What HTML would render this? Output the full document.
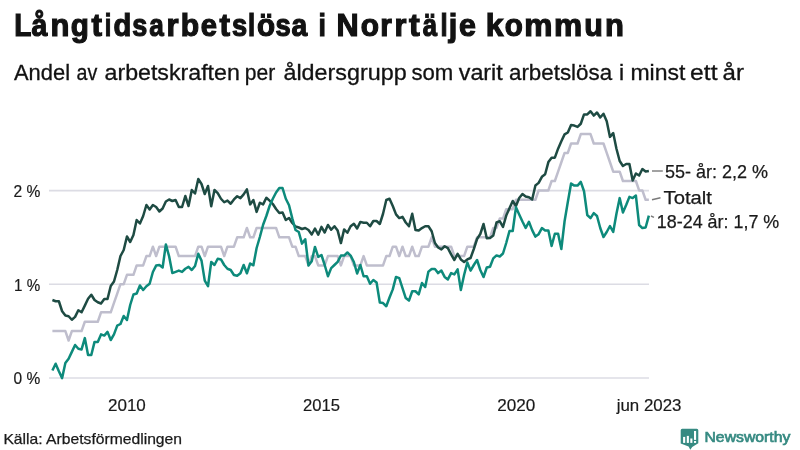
<!DOCTYPE html>
<html><head><meta charset="utf-8">
<style>
html,body{margin:0;padding:0;background:#fff;}
body{width:800px;height:450px;overflow:hidden;}
svg{display:block;will-change:transform;}
text{font-family:"Liberation Sans", sans-serif;}
</style></head><body>
<svg width="800" height="450" viewBox="0 0 800 450">
<rect width="800" height="450" fill="#fff"/>
<text x="14.14" y="35.8" font-size="31.5" font-weight="bold" fill="#121212" stroke="#121212" stroke-width="1.2" textLength="17.15" lengthAdjust="spacingAndGlyphs">L</text>
<text x="31.38" y="35.8" font-size="31.5" font-weight="bold" fill="#121212" stroke="#121212" stroke-width="1.2" textLength="15.91" lengthAdjust="spacingAndGlyphs">å</text>
<text x="50.41" y="35.8" font-size="31.5" font-weight="bold" fill="#121212" stroke="#121212" stroke-width="1.2" textLength="18.93" lengthAdjust="spacingAndGlyphs">n</text>
<text x="70.82" y="35.8" font-size="31.5" font-weight="bold" fill="#121212" stroke="#121212" stroke-width="1.2" textLength="18.13" lengthAdjust="spacingAndGlyphs">g</text>
<text x="91.4" y="35.8" font-size="31.5" font-weight="bold" fill="#121212" stroke="#121212" stroke-width="1.2" textLength="10.5" lengthAdjust="spacingAndGlyphs">t</text>
<text x="104.63" y="35.8" font-size="31.5" font-weight="bold" fill="#121212" stroke="#121212" stroke-width="1.2" textLength="6.56" lengthAdjust="spacingAndGlyphs">i</text>
<text x="113.42" y="35.8" font-size="31.5" font-weight="bold" fill="#121212" stroke="#121212" stroke-width="1.2" textLength="17.81" lengthAdjust="spacingAndGlyphs">d</text>
<text x="132.32" y="35.8" font-size="31.5" font-weight="bold" fill="#121212" stroke="#121212" stroke-width="1.2" textLength="15.01" lengthAdjust="spacingAndGlyphs">s</text>
<text x="149.37" y="35.8" font-size="31.5" font-weight="bold" fill="#121212" stroke="#121212" stroke-width="1.2" textLength="14.54" lengthAdjust="spacingAndGlyphs">a</text>
<text x="166.56" y="35.8" font-size="31.5" font-weight="bold" fill="#121212" stroke="#121212" stroke-width="1.2" textLength="12.08" lengthAdjust="spacingAndGlyphs">r</text>
<text x="180.75" y="35.8" font-size="31.5" font-weight="bold" fill="#121212" stroke="#121212" stroke-width="1.2" textLength="18.39" lengthAdjust="spacingAndGlyphs">b</text>
<text x="200.77" y="35.8" font-size="31.5" font-weight="bold" fill="#121212" stroke="#121212" stroke-width="1.2" textLength="16.26" lengthAdjust="spacingAndGlyphs">e</text>
<text x="219.5" y="35.8" font-size="31.5" font-weight="bold" fill="#121212" stroke="#121212" stroke-width="1.2" textLength="10.5" lengthAdjust="spacingAndGlyphs">t</text>
<text x="232.06" y="35.8" font-size="31.5" font-weight="bold" fill="#121212" stroke="#121212" stroke-width="1.2" textLength="15.15" lengthAdjust="spacingAndGlyphs">s</text>
<text x="247.89" y="35.8" font-size="31.5" font-weight="bold" fill="#121212" stroke="#121212" stroke-width="1.2" textLength="7.12" lengthAdjust="spacingAndGlyphs">l</text>
<text x="256.98" y="35.8" font-size="31.5" font-weight="bold" fill="#121212" stroke="#121212" stroke-width="1.2" textLength="18.08" lengthAdjust="spacingAndGlyphs">ö</text>
<text x="275.57" y="35.8" font-size="31.5" font-weight="bold" fill="#121212" stroke="#121212" stroke-width="1.2" textLength="15.22" lengthAdjust="spacingAndGlyphs">s</text>
<text x="291.52" y="35.8" font-size="31.5" font-weight="bold" fill="#121212" stroke="#121212" stroke-width="1.2" textLength="15.74" lengthAdjust="spacingAndGlyphs">a</text>
<text x="318.58" y="35.8" font-size="31.5" font-weight="bold" fill="#121212" stroke="#121212" stroke-width="1.2" textLength="7.44" lengthAdjust="spacingAndGlyphs">i</text>
<text x="336.51" y="35.8" font-size="31.5" font-weight="bold" fill="#121212" stroke="#121212" stroke-width="1.2" textLength="22.14" lengthAdjust="spacingAndGlyphs">N</text>
<text x="360.84" y="35.8" font-size="31.5" font-weight="bold" fill="#121212" stroke="#121212" stroke-width="1.2" textLength="18.26" lengthAdjust="spacingAndGlyphs">o</text>
<text x="380.35" y="35.8" font-size="31.5" font-weight="bold" fill="#121212" stroke="#121212" stroke-width="1.2" textLength="11.57" lengthAdjust="spacingAndGlyphs">r</text>
<text x="394.53" y="35.8" font-size="31.5" font-weight="bold" fill="#121212" stroke="#121212" stroke-width="1.2" textLength="11.96" lengthAdjust="spacingAndGlyphs">r</text>
<text x="409.03" y="35.8" font-size="31.5" font-weight="bold" fill="#121212" stroke="#121212" stroke-width="1.2" textLength="10.76" lengthAdjust="spacingAndGlyphs">t</text>
<text x="422.72" y="35.8" font-size="31.5" font-weight="bold" fill="#121212" stroke="#121212" stroke-width="1.2" textLength="14.36" lengthAdjust="spacingAndGlyphs">ä</text>
<text x="440.49" y="35.8" font-size="31.5" font-weight="bold" fill="#121212" stroke="#121212" stroke-width="1.2" textLength="7.12" lengthAdjust="spacingAndGlyphs">l</text>
<text x="448.68" y="35.8" font-size="31.5" font-weight="bold" fill="#121212" stroke="#121212" stroke-width="1.2" textLength="8.54" lengthAdjust="spacingAndGlyphs">j</text>
<text x="459.09" y="35.8" font-size="31.5" font-weight="bold" fill="#121212" stroke="#121212" stroke-width="1.2" textLength="16.94" lengthAdjust="spacingAndGlyphs">e</text>
<text x="485.76" y="35.8" font-size="31.5" font-weight="bold" fill="#121212" stroke="#121212" stroke-width="1.2" textLength="17.71" lengthAdjust="spacingAndGlyphs">k</text>
<text x="504.68" y="35.8" font-size="31.5" font-weight="bold" fill="#121212" stroke="#121212" stroke-width="1.2" textLength="18.08" lengthAdjust="spacingAndGlyphs">o</text>
<text x="524.16" y="35.8" font-size="31.5" font-weight="bold" fill="#121212" stroke="#121212" stroke-width="1.2" textLength="28.19" lengthAdjust="spacingAndGlyphs">m</text>
<text x="553.96" y="35.8" font-size="31.5" font-weight="bold" fill="#121212" stroke="#121212" stroke-width="1.2" textLength="28.19" lengthAdjust="spacingAndGlyphs">m</text>
<text x="584.32" y="35.8" font-size="31.5" font-weight="bold" fill="#121212" stroke="#121212" stroke-width="1.2" textLength="18.6" lengthAdjust="spacingAndGlyphs">u</text>
<text x="604.91" y="35.8" font-size="31.5" font-weight="bold" fill="#121212" stroke="#121212" stroke-width="1.2" textLength="18.93" lengthAdjust="spacingAndGlyphs">n</text>
<text x="14.0" y="79.9" font-size="21.6" fill="#121212" stroke="#121212" stroke-width="0.3" textLength="56.0" lengthAdjust="spacingAndGlyphs">Andel</text>
<text x="76.59" y="79.9" font-size="21.6" fill="#121212" stroke="#121212" stroke-width="0.3" textLength="20.74" lengthAdjust="spacingAndGlyphs">av</text>
<text x="104.53" y="79.9" font-size="21.6" fill="#121212" stroke="#121212" stroke-width="0.3" textLength="135.33" lengthAdjust="spacingAndGlyphs">arbetskraften</text>
<text x="244.78" y="79.9" font-size="21.6" fill="#121212" stroke="#121212" stroke-width="0.3" textLength="30.44" lengthAdjust="spacingAndGlyphs">per</text>
<text x="283.42" y="79.9" font-size="21.6" fill="#121212" stroke="#121212" stroke-width="0.3" textLength="123.21" lengthAdjust="spacingAndGlyphs">åldersgrupp</text>
<text x="411.47" y="79.9" font-size="21.6" fill="#121212" stroke="#121212" stroke-width="0.3" textLength="41.84" lengthAdjust="spacingAndGlyphs">som</text>
<text x="458.75" y="79.9" font-size="21.6" fill="#121212" stroke="#121212" stroke-width="0.3" textLength="44.03" lengthAdjust="spacingAndGlyphs">varit</text>
<text x="508.96" y="79.9" font-size="21.6" fill="#121212" stroke="#121212" stroke-width="0.3" textLength="103.16" lengthAdjust="spacingAndGlyphs">arbetslösa</text>
<text x="618.93" y="79.9" font-size="21.6" fill="#121212" stroke="#121212" stroke-width="0.3" textLength="66.48" lengthAdjust="spacingAndGlyphs">i minst</text>
<text x="690.11" y="79.9" font-size="21.6" fill="#121212" stroke="#121212" stroke-width="0.3" textLength="27.41" lengthAdjust="spacingAndGlyphs">ett</text>
<text x="722.64" y="79.9" font-size="21.6" fill="#121212" stroke="#121212" stroke-width="0.3" textLength="21.34" lengthAdjust="spacingAndGlyphs">år</text>
<g stroke="#dcdce4" stroke-width="1.6">
<line x1="49" y1="190.6" x2="649" y2="190.6"/>
<line x1="49" y1="284.2" x2="649" y2="284.2"/>
<line x1="49" y1="378" x2="649" y2="378"/>
</g>
<text x="13.38" y="196.5" font-size="17" fill="#1a1a1a" stroke="#1a1a1a" stroke-width="0.2" textLength="26.89" lengthAdjust="spacingAndGlyphs">2 %</text>
<text x="14.11" y="290.5" font-size="17" fill="#1a1a1a" stroke="#1a1a1a" stroke-width="0.2" textLength="26.16" lengthAdjust="spacingAndGlyphs">1 %</text>
<text x="13.59" y="383.8" font-size="17" fill="#1a1a1a" stroke="#1a1a1a" stroke-width="0.2" textLength="26.68" lengthAdjust="spacingAndGlyphs">0 %</text>
<text x="108.0" y="411" font-size="17" fill="#1a1a1a" stroke="#1a1a1a" stroke-width="0.2" textLength="37.83" lengthAdjust="spacingAndGlyphs">2010</text>
<text x="302.92" y="411" font-size="17" fill="#1a1a1a" stroke="#1a1a1a" stroke-width="0.2" textLength="36.99" lengthAdjust="spacingAndGlyphs">2015</text>
<text x="497.24" y="411" font-size="17" fill="#1a1a1a" stroke="#1a1a1a" stroke-width="0.2" textLength="38.09" lengthAdjust="spacingAndGlyphs">2020</text>
<text x="616.69" y="411" font-size="17" fill="#1a1a1a" stroke="#1a1a1a" stroke-width="0.2" textLength="64.74" lengthAdjust="spacingAndGlyphs">jun 2023</text>
<g fill="none" stroke-linejoin="round" stroke-linecap="butt">
<polyline stroke="#bfbecd" stroke-width="2.5" points="52.40,331.10 55.64,331.10 58.88,331.10 62.12,331.10 65.37,331.10 68.61,340.48 71.85,331.10 75.09,331.10 78.33,331.10 81.58,331.10 84.82,321.72 88.06,321.72 91.30,321.72 94.54,321.72 97.78,321.72 101.03,312.34 104.27,312.34 107.51,312.34 110.75,312.34 113.99,302.96 117.23,293.58 120.47,284.20 123.72,284.20 126.96,274.82 130.20,274.82 133.44,274.82 136.68,265.44 139.93,265.44 143.17,265.44 146.41,256.06 149.65,256.06 152.89,246.68 156.13,256.06 159.38,246.68 162.62,246.68 165.86,246.68 169.10,246.68 172.34,246.68 175.58,246.68 178.82,256.06 182.07,256.06 185.31,256.06 188.55,256.06 191.79,256.06 195.03,256.06 198.28,246.68 201.52,246.68 204.76,256.06 208.00,246.68 211.24,246.68 214.48,246.68 217.72,246.68 220.97,246.68 224.21,256.06 227.45,246.68 230.69,246.68 233.93,246.68 237.18,237.30 240.42,237.30 243.66,237.30 246.90,227.92 250.14,237.30 253.38,237.30 256.62,227.92 259.87,227.92 263.11,227.92 266.35,227.92 269.59,227.92 272.83,227.92 276.07,227.92 279.32,237.30 282.56,237.30 285.80,237.30 289.04,237.30 292.28,246.68 295.52,246.68 298.77,256.06 302.01,256.06 305.25,256.06 308.49,265.44 311.73,256.06 314.97,256.06 318.22,265.44 321.46,265.44 324.70,265.44 327.94,256.06 331.18,256.06 334.42,256.06 337.67,256.06 340.91,265.44 344.15,256.06 347.39,256.06 350.63,256.06 353.88,265.44 357.12,265.44 360.36,265.44 363.60,256.06 366.84,265.44 370.08,265.44 373.32,265.44 376.57,265.44 379.81,265.44 383.05,265.44 386.29,256.06 389.53,256.06 392.77,246.68 396.02,246.68 399.26,256.06 402.50,246.68 405.74,256.06 408.98,256.06 412.22,246.68 415.47,256.06 418.71,256.06 421.95,246.68 425.19,246.68 428.43,246.68 431.67,237.30 434.92,246.68 438.16,246.68 441.40,246.68 444.64,246.68 447.88,246.68 451.12,246.68 454.37,256.06 457.61,256.06 460.85,256.06 464.09,256.06 467.33,246.68 470.57,246.68 473.82,246.68 477.06,237.30 480.30,237.30 483.54,237.30 486.78,237.30 490.02,237.30 493.27,227.92 496.51,227.92 499.75,218.54 502.99,218.54 506.23,209.16 509.47,209.16 512.72,209.16 515.96,199.78 519.20,199.78 522.44,199.78 525.68,199.78 528.92,199.78 532.17,199.78 535.41,199.78 538.65,190.40 541.89,190.40 545.13,190.40 548.38,190.40 551.62,181.02 554.86,181.02 558.10,171.64 561.34,162.26 564.58,152.88 567.82,152.88 571.07,143.50 574.31,143.50 577.55,143.50 580.79,134.12 584.03,134.12 587.27,134.12 590.52,134.12 593.76,143.50 597.00,143.50 600.24,143.50 603.48,143.50 606.73,152.88 609.97,162.26 613.21,171.64 616.45,171.64 619.69,171.64 622.93,181.02 626.17,181.02 629.42,181.02 632.66,181.02 635.90,181.02 639.14,190.40 642.38,190.40 645.62,199.78 648.87,199.78"/>
<polyline stroke="#1e4b43" stroke-width="2.5" points="52.40,300.00 55.64,301.25 58.88,301.25 62.12,311.25 65.37,315.60 68.61,316.25 71.85,319.75 75.09,316.90 78.33,310.25 81.58,312.25 84.82,305.60 88.06,298.75 91.30,294.75 94.54,300.00 97.78,302.25 101.03,303.50 104.27,299.00 107.51,299.00 110.75,286.00 113.99,281.50 117.23,270.00 120.47,256.00 123.72,250.00 126.96,236.50 130.20,242.00 133.44,235.00 136.68,220.00 139.93,223.50 143.17,216.00 146.41,205.00 149.65,209.50 152.89,205.00 156.13,207.00 159.38,211.50 162.62,208.50 165.86,201.50 169.10,199.50 172.34,201.00 175.58,200.00 178.82,207.00 182.07,207.00 185.31,196.00 188.55,206.00 191.79,190.00 195.03,193.50 198.28,179.00 201.52,184.00 204.76,194.00 208.00,186.00 211.24,206.25 214.48,190.00 217.72,193.10 220.97,198.75 224.21,202.25 227.45,200.60 230.69,203.75 233.93,199.40 237.18,196.25 240.42,198.10 243.66,194.40 246.90,189.40 250.14,204.40 253.38,200.00 256.62,211.90 259.87,202.75 263.11,204.40 266.35,197.75 269.59,200.60 272.83,204.00 276.07,209.00 279.32,213.00 282.56,212.50 285.80,220.00 289.04,218.00 292.28,223.00 295.52,226.50 298.77,227.50 302.01,229.00 305.25,228.00 308.49,230.00 311.73,234.50 314.97,228.50 318.22,234.75 321.46,226.90 324.70,232.50 327.94,225.00 331.18,229.75 334.42,226.25 337.67,230.60 340.91,243.10 344.15,229.40 347.39,232.75 350.63,226.25 353.88,223.75 357.12,228.50 360.36,221.90 363.60,222.75 366.84,222.75 370.08,226.25 373.32,221.00 376.57,221.00 379.81,224.00 383.05,213.75 386.29,200.00 389.53,198.75 392.77,206.00 396.02,214.40 399.26,218.10 402.50,216.90 405.74,222.50 408.98,226.25 412.22,213.75 415.47,230.00 418.71,230.60 421.95,228.10 425.19,226.25 428.43,226.25 431.67,231.25 434.92,243.00 438.16,247.50 441.40,249.40 444.64,246.25 447.88,248.10 451.12,254.40 454.37,260.00 457.61,253.75 460.85,259.40 464.09,261.90 467.33,259.40 470.57,258.00 473.82,249.00 477.06,239.00 480.30,234.00 483.54,224.00 486.78,238.20 490.02,238.00 493.27,235.50 496.51,222.50 499.75,221.20 502.99,227.00 506.23,215.60 509.47,208.20 512.72,201.00 515.96,206.00 519.20,198.00 522.44,194.00 525.68,196.50 528.92,197.20 532.17,199.50 535.41,185.50 538.65,182.90 541.89,176.80 545.13,174.30 548.38,162.10 551.62,157.70 554.86,157.70 558.10,148.70 561.34,141.25 564.58,134.40 567.82,132.50 571.07,125.00 574.31,125.60 577.55,126.90 580.79,123.75 584.03,114.40 587.27,114.40 590.52,111.25 593.76,115.60 597.00,112.50 600.24,117.50 603.48,113.75 606.73,121.25 609.97,136.90 613.21,133.10 616.45,148.75 619.69,161.00 622.93,166.00 626.17,164.00 629.42,164.00 632.66,180.50 635.90,173.50 639.14,175.50 642.38,169.00 645.62,171.50 648.87,171.00"/>
<polyline stroke="#0d8a7b" stroke-width="2.5" points="52.40,370.50 55.64,363.75 58.88,371.25 62.12,378.10 65.37,363.10 68.61,358.75 71.85,351.90 75.09,345.00 78.33,348.75 81.58,349.40 84.82,338.10 88.06,355.00 91.30,355.00 94.54,341.90 97.78,341.90 101.03,334.40 104.27,335.60 107.51,331.90 110.75,340.00 113.99,334.40 117.23,325.60 120.47,324.00 123.72,316.00 126.96,320.00 130.20,305.00 133.44,294.50 136.68,293.50 139.93,285.50 143.17,290.00 146.41,286.25 149.65,283.75 152.89,272.00 156.13,265.60 159.38,265.00 162.62,267.50 165.86,244.40 169.10,256.25 172.34,273.10 175.58,271.90 178.82,270.60 182.07,271.90 185.31,268.75 188.55,266.90 191.79,270.00 195.03,266.00 198.28,253.75 201.52,260.60 204.76,280.60 208.00,286.25 211.24,261.90 214.48,265.00 217.72,258.75 220.97,259.40 224.21,265.00 227.45,268.75 230.69,270.00 233.93,275.00 237.18,275.80 240.42,273.20 243.66,265.00 246.90,273.30 250.14,263.50 253.38,265.30 256.62,248.00 259.87,237.00 263.11,224.75 266.35,216.00 269.59,206.00 272.83,198.75 276.07,192.50 279.32,188.10 282.56,188.10 285.80,198.75 289.04,205.30 292.28,218.40 295.52,230.00 298.77,232.00 302.01,243.60 305.25,239.20 308.49,265.60 311.73,261.25 314.97,246.90 318.22,256.90 321.46,255.00 324.70,265.00 327.94,276.25 331.18,268.10 334.42,265.00 337.67,261.90 340.91,255.60 344.15,255.60 347.39,252.50 350.63,255.60 353.88,262.00 357.12,273.50 360.36,265.00 363.60,276.25 366.84,276.25 370.08,283.75 373.32,280.00 376.57,282.50 379.81,302.50 383.05,303.10 386.29,306.25 389.53,297.50 392.77,289.40 396.02,276.90 399.26,278.10 402.50,288.10 405.74,298.10 408.98,300.60 412.22,291.25 415.47,291.25 418.71,294.40 421.95,283.00 425.19,287.00 428.43,271.60 431.67,269.00 434.92,269.00 438.16,273.10 441.40,270.60 444.64,276.90 447.88,279.40 451.12,273.10 454.37,274.40 457.61,269.40 460.85,290.00 464.09,275.00 467.33,262.50 470.57,270.60 473.82,265.00 477.06,260.00 480.30,270.00 483.54,277.00 486.78,267.50 490.02,266.75 493.27,258.40 496.51,255.40 499.75,256.50 502.99,253.50 506.23,243.00 509.47,231.00 512.72,231.00 515.96,207.30 519.20,214.40 522.44,221.50 525.68,228.00 528.92,221.80 532.17,230.10 535.41,236.60 538.65,234.20 541.89,228.10 545.13,230.60 548.38,230.60 551.62,246.00 554.86,233.75 558.10,233.75 561.34,249.00 564.58,221.25 567.82,202.00 571.07,183.50 574.31,185.60 577.55,185.60 580.79,181.90 584.03,191.25 587.27,215.00 590.52,218.10 593.76,213.10 597.00,216.00 600.24,228.00 603.48,237.00 606.73,232.00 609.97,226.00 613.21,232.00 616.45,213.75 619.69,198.10 622.93,212.50 626.17,205.00 629.42,196.90 632.66,198.10 635.90,195.60 639.14,225.00 642.38,228.10 645.62,227.50 648.87,215.60"/>
</g>
<g stroke="#7a7a7a" stroke-width="1.4">
<line x1="652" y1="171" x2="662.8" y2="171"/>
<line x1="652" y1="199.8" x2="660.5" y2="197.8"/>
<line x1="651" y1="216" x2="654" y2="217.3"/>
</g>
<text x="665.03" y="177.8" font-size="18.5" fill="#1a1a1a" stroke="#1a1a1a" stroke-width="0.25" textLength="103.07" lengthAdjust="spacingAndGlyphs">55- år: 2,2 %</text>
<text x="663.5" y="204" font-size="18.5" fill="#1a1a1a" stroke="#1a1a1a" stroke-width="0.25" textLength="48.44" lengthAdjust="spacingAndGlyphs">Totalt</text>
<text x="656.83" y="228.2" font-size="18.5" fill="#1a1a1a" stroke="#1a1a1a" stroke-width="0.25" textLength="122.45" lengthAdjust="spacingAndGlyphs">18-24 år: 1,7 %</text>
<text x="3.42" y="443.8" font-size="14.5" fill="#1a1a1a" stroke="#1a1a1a" stroke-width="0.25" textLength="178.6" lengthAdjust="spacingAndGlyphs">Källa: Arbetsförmedlingen</text>
<path fill="#368a82" d="M682.2,428.7 H696.8 Q698.3,428.7 698.3,430.2 V443.2 L692.2,447 L690.3,449.8 L688.6,446.4 L680.7,443.6 V430.2 Q680.7,428.7 682.2,428.7 Z"/>
<g fill="#fff">
<rect x="683.1" y="436.9" width="2.1" height="6"/>
<rect x="686.8" y="435.9" width="2.1" height="7"/>
<rect x="690.3" y="438.5" width="2.1" height="4.4"/>
<rect x="694" y="431" width="2.1" height="8.9"/>
<rect x="694" y="441" width="2.1" height="1.9"/>
</g>
<text x="704.48" y="442" font-size="15.5" fill="#368a82" stroke="#368a82" stroke-width="0.7" textLength="85.93" lengthAdjust="spacingAndGlyphs">Newsworthy</text>
</svg>
</body></html>
